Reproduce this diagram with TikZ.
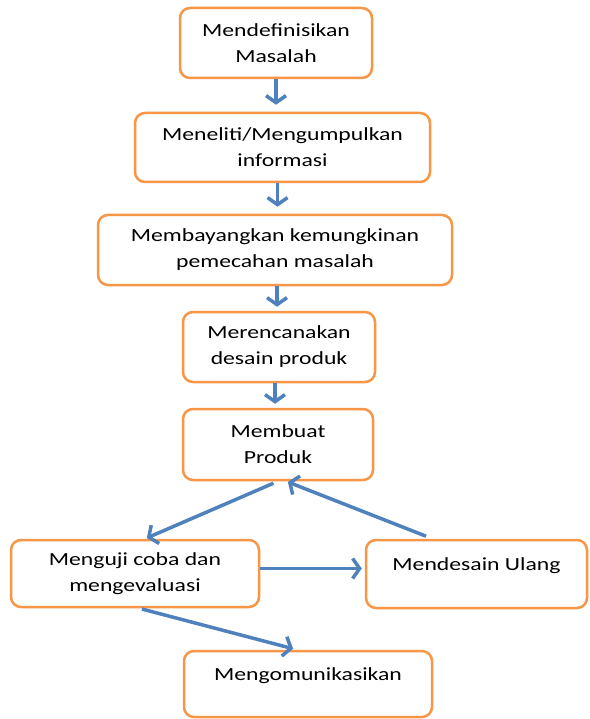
\documentclass[tikz,border=0pt]{standalone}
\usepackage{fontspec}
\setmainfont[FakeStretch=1.28]{Carlito}
\usepackage{tikz}
\usetikzlibrary{arrows.meta}
\usetikzlibrary{calc}

\definecolor{boxorange}{HTML}{F79646}
\definecolor{flowblue}{HTML}{4F81BD}

\tikzset{
  stepbox/.style={draw=boxorange, line width=2.5pt, rounded corners=10pt, fill=white,
    align=center, inner sep=0pt, font=\fontsize{18.5}{26}\selectfont},
  oneline/.style={text height=14pt, text depth=22pt},
  flow/.style={draw=flowblue, line width=3.5pt, -{Straight Barb[length=7pt,width=20pt]}},
}

\begin{document}
\begin{tikzpicture}[x=1pt, y=-1pt]
      \useasboundingbox (0,0) rectangle (589,719);

      % the chain of steps
      \node[stepbox, minimum width=192pt, minimum height=70pt] (masalah) at (276,43) {Mendefinisikan\\Masalah};
      \node[stepbox, minimum width=295pt, minimum height=69pt] (info) at (282.5,147.5) {Meneliti/Mengumpulkan\\informasi};
      \node[stepbox, minimum width=354pt, minimum height=70pt] (bayang) at (275,250) {Membayangkan kemungkinan\\pemecahan masalah};
      \node[stepbox, minimum width=192pt, minimum height=70pt] (desain) at (279,347) {Merencanakan\\desain produk};
      \node[stepbox, minimum width=190pt, minimum height=71pt] (produk) at (278,444.5) {Membuat\\Produk};
      \node[stepbox, minimum width=248pt, minimum height=67pt] (uji) at (135,573.5) {Menguji coba dan\\mengevaluasi};
      \node[stepbox, oneline, minimum width=221pt, minimum height=68pt] (ulang) at (476.5,574) {Mendesain Ulang};
      \node[stepbox, oneline, minimum width=248pt, minimum height=66pt] (komunikasi) at (308,684) {Mengomunikasikan};

      \draw[flow, shorten >=7pt] (masalah.south) -- (masalah.south |- info.north);
      \draw[flow, shorten >=7pt] ([xshift=-5pt]info.south) -- ([xshift=-5pt]info.south |- bayang.north);
      \draw[flow, shorten >=4pt] ([xshift=2pt]bayang.south) -- ([xshift=2pt]bayang.south |- desain.north);
      \draw[flow, shorten >=4pt] ([xshift=-4pt]desain.south) -- ([xshift=-4pt]desain.south |- produk.north);

      % loop back and out
      \draw[flow, shorten <=5pt, shorten >=2pt] (produk.south) -- ([xshift=10pt]uji.north);
      \draw[flow, shorten <=7pt, shorten >=2pt] ([xshift=-44pt]ulang.north) -- ([xshift=8pt]produk.south);
      \draw[flow, shorten >=3pt] ([yshift=5pt]uji.east) -- ([yshift=5pt]uji.east -| ulang.west);
      \draw[flow, shorten <=3pt, shorten >=4pt] ([xshift=4pt]uji.south) -- ([xshift=-11pt]komunikasi.north);
\end{tikzpicture}
\end{document}
